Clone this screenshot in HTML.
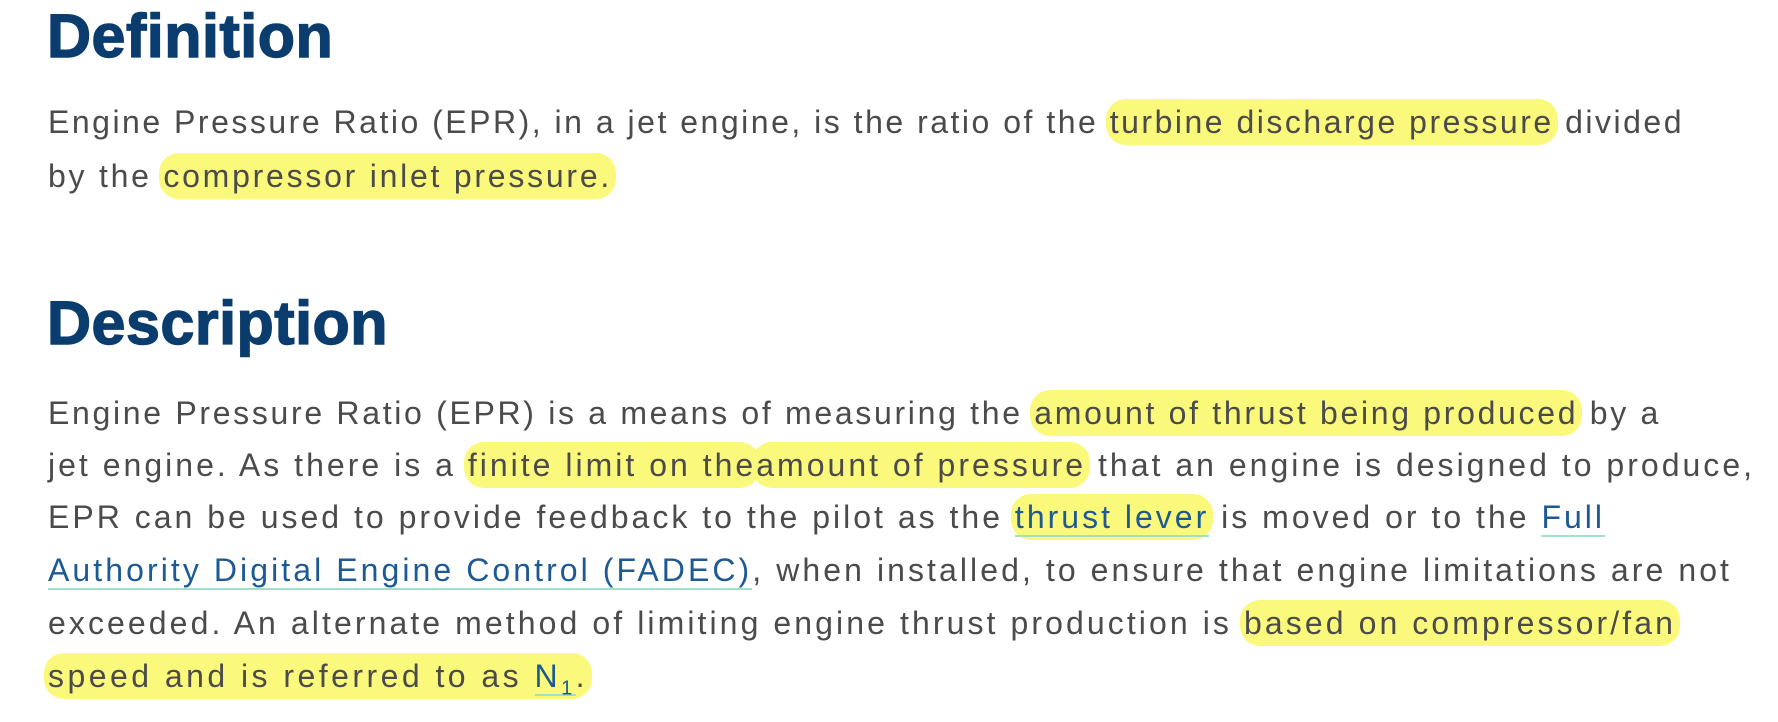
<!DOCTYPE html>
<html><head><meta charset="utf-8">
<style>
html,body{margin:0;padding:0;background:#fff;width:1778px;height:722px;overflow:hidden;}
body{position:relative;font-family:"Liberation Sans",sans-serif;color:#4b4b4b;}
h2{position:absolute;margin:0;left:47px;font-size:61px;font-weight:bold;color:#0b3c6e;line-height:1;letter-spacing:0.5px;-webkit-text-stroke:1.4px #0b3c6e;}
.ln{position:absolute;left:48px;font-size:32px;white-space:nowrap;line-height:1;}
.hl{background:#fbf97c;border-radius:20px;padding:5px 4px;margin:0 -4px;}
.lk{color:#1d5a94;border-bottom:2px solid #9fe0c8;}
</style></head><body>
<h2 style="top:6px">Definition</h2>
<div class="ln" data-w="1636" style="top:106px">Engine Pressure Ratio (EPR), in a jet engine, is the ratio of the <span class="hl">turbine discharge pressure</span> divided</div>
<div class="ln" data-w="564" style="top:160px">by the <span class="hl">compressor inlet pressure.</span></div>
<h2 style="top:293px">Description</h2>
<div class="ln" data-w="1613" style="top:397px">Engine Pressure Ratio (EPR) is a means of measuring the <span class="hl">amount of thrust being produced</span> by a</div>
<div class="ln" data-w="1707" style="top:449px">jet engine. As there is a <span class="hl">finite limit on the</span><span class="hl">amount of pressure</span> that an engine is designed to produce,</div>
<div class="ln" data-w="1557" style="top:501px">EPR can be used to provide feedback to the pilot as the <span class="hl"><span class="lk">thrust lever</span></span> is moved or to the <span class="lk">Full</span></div>
<div class="ln" data-w="1684" style="top:554px"><span class="lk">Authority Digital Engine Control (FADEC)</span>, when installed, to ensure that engine limitations are not</div>
<div class="ln" data-w="1628" style="top:607px">exceeded. An alternate method of limiting engine thrust production is <span class="hl">based on compressor/fan</span></div>
<div class="ln" data-w="540" style="top:660px"><span class="hl">speed and is referred to as <span class="lk">N<sub style="font-size:20px">1</sub></span>.</span></div>
<script>
document.querySelectorAll('.ln').forEach(function(el){
  var target=parseFloat(el.getAttribute('data-w'));
  var n=el.textContent.length;
  var w=el.getBoundingClientRect().width;
  el.style.letterSpacing=((target-w)/n)+'px';
});
</script>
</body></html>
